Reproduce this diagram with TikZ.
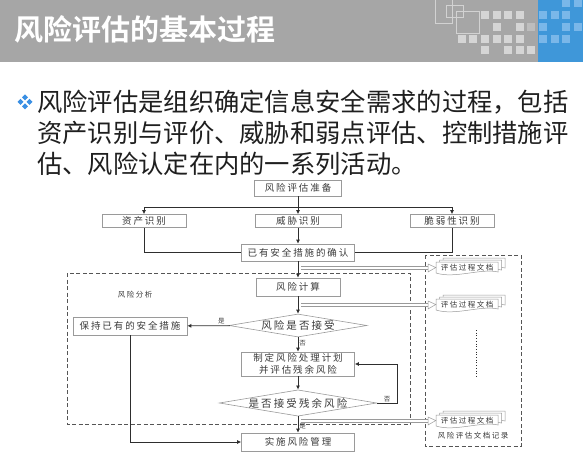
\documentclass[tikz,border=0pt]{standalone}
\usepackage{fontspec}
\usetikzlibrary{shapes.geometric,arrows.meta}
\newfontfamily\cjk{Noto Sans CJK SC}
\newfontfamily\cjkbold{Noto Sans CJK SC Bold}
\newfontfamily\cjkflow[LetterSpace=20]{Noto Sans CJK SC}
\definecolor{headgray}{HTML}{A6A6A6}
\definecolor{headblue}{HTML}{3F97D9}
\definecolor{sqlight}{HTML}{D5D5D5}
\definecolor{sqmid}{HTML}{BDBDBD}
\definecolor{sqblue}{HTML}{7AB7E9}
\definecolor{outline}{HTML}{D2D2D2}
\definecolor{bulletblue}{HTML}{3A8FE3}
\definecolor{boxgray}{HTML}{9A9A9A}
\definecolor{linecol}{HTML}{2E2E2E}
\definecolor{flowtext}{HTML}{3A3A3A}
\definecolor{dashcol}{HTML}{555555}
\tikzset{
  box/.style={draw=boxgray, line width=0.6pt, fill=white, inner sep=0pt, text=flowtext,
    font=\cjkflow\fontsize{9.5}{11.5}\selectfont},
  judge/.style={diamond, draw=boxgray, line width=0.6pt, fill=white, inner sep=0pt, shape aspect=6,
    text=flowtext, font=\cjkflow\fontsize{10.5}{12}\selectfont},
  flow/.style={draw=linecol, line width=0.8pt, -{Latex[length=4pt,width=4pt]}},
  link/.style={draw=linecol, line width=0.8pt},
  tag/.style={inner sep=1pt, text=flowtext, font=\cjk\fontsize{6.5}{7}\selectfont},
  note/.style={inner sep=0pt, text=flowtext, font=\cjkflow\fontsize{7.5}{9}\selectfont},
  frame/.style={draw=dashcol, line width=0.8pt, dash pattern=on 4pt off 2.5pt},
  shaft/.style={draw=boxgray, line width=0.5pt, double=white, double distance=2.4pt},
  hollowhead/.style={draw=boxgray, line width=0.5pt, fill=white},
  doctext/.style={inner sep=0pt, minimum width=62, minimum height=12, text=flowtext,
    font=\cjkflow\fontsize{7.5}{9}\selectfont},
  bodytext/.style={anchor=base west, inner sep=0pt, text=black!88, font=\cjk\fontsize{25.3}{31}\selectfont},
  docpage/.pic={
    \draw[draw=boxgray, line width=0.5pt, fill=white] (-31,-6) -- (31,-6) -- (31,4)
      .. controls (14,0) and (-12,11) .. (-31,5) -- cycle;
  }
}
\begin{document}
\begin{tikzpicture}[x=1pt,y=-1pt]
\useasboundingbox (0,0) rectangle (583,457);
%header bar
\fill[headgray] (0,0) rectangle (583,62);
\fill[headblue] (538,0) rectangle (583,62);
\foreach \sx/\sy in {481/11,493/11,504/11,516/11,493/23,516/23,
  458/35,469/35,481/35,493/35,504/35,516/35,481/46,504/46,516/46,527/46}
  \fill[sqlight] (\sx,\sy) rectangle ++(8,8);
\fill[sqmid] (527,23) rectangle ++(8,8);
\foreach \sx/\sy in {562/-1,574/-1,539/11,551/11,562/11,539/23,562/23,574/23,539/35,551/35,562/35}
  \fill[sqblue] (\sx,\sy) rectangle ++(8,8);
\draw[outline, line width=0.6pt] (435,-1) rectangle (452,23);
\draw[outline, line width=0.6pt] (446,5) rectangle (463,17);
\draw[outline, line width=0.6pt] (456,11) rectangle (479,33);
\node[anchor=base west, inner sep=0pt, text=white, font=\cjkbold\fontsize{29}{31}\selectfont]
  (title) at (14,41) {风险评估的基本过程};

%bullet text
\foreach \dx/\dy in {0/-4.5,-4.5/0,4.5/0,0/4.5}
  \fill[bulletblue] (25+\dx,102+\dy) +(0,-3) -- +(3,0) -- +(0,3) -- +(-3,0) -- cycle;
\node[bodytext] (line1) at (37,111.5) {风险评估是组织确定信息安全需求的过程，包括};
\node[bodytext] (line2) at (37,142.5) {资产识别与评价、威胁和弱点评估、控制措施评};
\node[bodytext] (line3) at (37,173.5) {估、风险认定在内的一系列活动。};

%frames
\draw[frame] (67,273) rectangle (410,424);
\draw[frame] (425,255) rectangle (521,446);
\node[note] (analysis) at (135,295) {风险分析};
\node[note] (record) at (473,436) {风险评估文档记录};
\draw[draw=linecol, line width=0.7pt, dotted] (476,330) -- (476,377);

%flow boxes
\node[box, minimum width=87, minimum height=16] (prep) at (298,188) {风险评估准备};
\node[box, minimum width=84, minimum height=13] (asset) at (144,221) {资产识别};
\node[box, minimum width=86, minimum height=13] (threat) at (298,221) {威胁识别};
\node[box, minimum width=84, minimum height=13] (vuln) at (452,221) {脆弱性识别};
\node[box, minimum width=113, minimum height=17] (confirm) at (298,252.5) {已有安全措施的确认};
\node[box, minimum width=84, minimum height=18] (calc) at (298,287) {风险计算};
\node[judge, minimum width=138, minimum height=23] (accept) at (298,325.5) {风险是否接受};
\node[box, minimum width=114, minimum height=18] (keep) at (130,326) {保持已有的安全措施};
\node[box, minimum width=113, minimum height=24, align=center] (plan) at (298,364) {制定风险处理计划\\并评估残余风险};
\node[judge, minimum width=137, minimum height=24] (residual) at (298,403) {是否接受残余风险};
\node[box, minimum width=113, minimum height=18] (impl) at (298,442) {实施风险管理};

%connectors
\coordinate (split) at (298,207);
\coordinate (loop) at (397,403);
\draw[flow] (prep) -- (threat);
\draw[flow] (split) -| (asset);
\draw[flow] (split) -| (vuln);
\draw[link] (asset) |- (confirm);
\draw[link] (vuln) |- (confirm);
\draw[flow] (threat) -- (confirm);
\draw[flow] (confirm) -- (calc);
\draw[flow] (calc) -- (accept);
\draw[flow] (accept) -- node[tag, above, pos=0.2] {是} (keep);
\draw[flow] (accept) -- node[tag, right, pos=0.4] {否} (plan);
\draw[flow] (plan) -- (residual);
\draw[flow] (residual.east) -- node[tag, above] {否} (loop) |- (plan.east);
\draw[flow] (residual) -- node[tag, right, pos=0.6] {是} (impl);
\draw[flow] (keep) |- (impl);

%documents
\foreach \d/\y in {1/268,2/305,3/421} {
  \pic at (474,\y-4) {docpage};
  \pic at (470.5,\y-2) {docpage};
  \pic at (467,\y) {docpage};
  \node[doctext] (doc\d) at (467,\y-0.5) {评估过程文档};
  \coordinate (tap\d) at (301,\y);
  \coordinate (head\d) at (428,\y);
  \draw[shaft] (tap\d) -- (head\d);
  \draw[hollowhead] ([yshift=4pt]head\d) -- (doc\d.west) -- ([yshift=-4pt]head\d) -- cycle;
}
\end{tikzpicture}
\end{document}
